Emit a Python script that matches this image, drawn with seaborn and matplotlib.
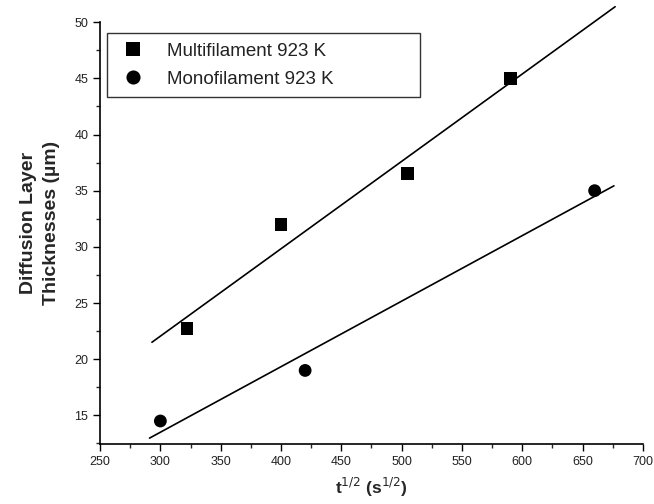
import numpy as np
import pandas as pd
import seaborn as sns
import matplotlib.pyplot as plt
from matplotlib.ticker import MultipleLocator

# data
multi_x = [322, 400, 505, 590]
multi_y = [22.7, 32.0, 36.5, 45.0]
mono_x = [300, 420, 660]
mono_y = [14.5, 19.0, 35.0]
labels = ['Multifilament 923 K', 'Monofilament 923 K']

df = pd.DataFrame({
    'x': multi_x + mono_x,
    'y': multi_y + mono_y,
    'series': [labels[0]] * len(multi_x) + [labels[1]] * len(mono_x),
})

sns.set_style('ticks')
plt.rcParams['font.family'] = ['Liberation Sans', 'DejaVu Sans']

fig = plt.figure(figsize=(6.54, 5.04), dpi=100)
ax = fig.add_axes([0.153, 0.119, 0.830, 0.837])

sns.scatterplot(data=df, x='x', y='y', hue='series', style='series',
                markers={labels[0]: 's', labels[1]: 'o'},
                palette={labels[0]: 'black', labels[1]: 'black'},
                s=85, edgecolor='black', linewidth=0, ax=ax, zorder=3)

# linear fits
for xs, ys, x0, x1 in [(multi_x, multi_y, 293, 677), (mono_x, mono_y, 291, 676)]:
    k, b = np.polyfit(xs, ys, 1)
    xx = np.array([x0, x1])
    ax.plot(xx, k * xx + b, color='black', lw=1.2, clip_on=False, zorder=2)

ax.set_xlim(250, 700)
ax.set_ylim(12.45, 50)
ax.xaxis.set_major_locator(MultipleLocator(50))
ax.xaxis.set_minor_locator(MultipleLocator(25))
ax.yaxis.set_minor_locator(MultipleLocator(2.5))
ax.set_yticks([15, 20, 25, 30, 35, 40, 45, 50])
ax.tick_params(which='major', length=5, width=1, labelsize=9, direction='out',
               colors='black', labelcolor='#222222')
ax.tick_params(which='minor', length=3, width=1, direction='out')
sns.despine(ax=ax)
for s in ['left', 'bottom']:
    ax.spines[s].set_linewidth(1.2)
    ax.spines[s].set_color('black')

ax.set_xlabel('t$^{1/2}$ (s$^{1/2}$)', fontsize=12.5, fontweight='bold', labelpad=6)
ax.set_ylabel('Diffusion Layer\nThicknesses (\u00b5m)', fontsize=14, fontweight='bold',
              linespacing=1.45)
ax.yaxis.set_label_coords(-0.074, 0.524)

leg = ax.legend(loc='upper left', bbox_to_anchor=(0.013, 0.974, 0.576, 0.0),
                mode='expand', fontsize=13.5, frameon=True, fancybox=False,
                edgecolor='black', handletextpad=0.9, borderpad=0.5,
                labelspacing=0.6, borderaxespad=0, handlelength=1.8,
                markerscale=1.1)
leg.get_frame().set_linewidth(1.0)
for t in leg.get_texts():
    t.set_color('#222222')

fig.savefig('out.png', dpi=100)
